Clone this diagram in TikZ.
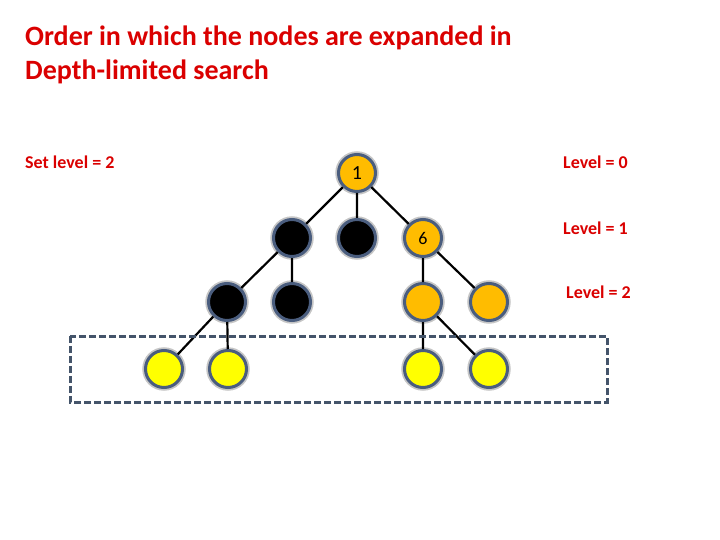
\documentclass[tikz,border=0pt]{standalone}
\usepackage{fontspec}
\setmainfont{Carlito}
\usepackage{tikz}
\usetikzlibrary{positioning}

\definecolor{titlered}{RGB}{218,0,0}
\definecolor{ringblue}{RGB}{74,93,126}
\definecolor{boxblue}{RGB}{68,84,106}
\definecolor{nodeorange}{RGB}{255,188,0}
\definecolor{nodeyellow}{RGB}{255,255,0}

\begin{document}
\begin{tikzpicture}[
  x=1pt, y=-1pt,
  every node/.style={font=\bfseries\fontsize{18}{21}\selectfont, text=titlered, inner sep=0pt},
  tnode/.style={circle, minimum size=37pt, draw=ringblue, line width=3pt,
    preaction={draw=gray!45, line width=6.5pt}, text=black,
    font=\fontsize{20}{22}\selectfont},
  done/.style={tnode, fill=black},
  open/.style={tnode, fill=nodeorange},
  leaf/.style={tnode, fill=nodeyellow},
  edge/.style={draw, black, line width=2.2pt}
]
\useasboundingbox (0,0) rectangle (720,540);

\node[anchor=north west, align=left, font=\bfseries\fontsize{28}{34}\selectfont] (title) at (25,26)
  {Order in which the nodes are expanded in\\Depth-limited search};
\node[anchor=west] (setlevel) at (25,162) {Set level = 2};
\node[anchor=west] (lvl0) at (563,162) {Level = 0};
\node[anchor=west] (lvl1) at (563,228) {Level = 1};
\node[anchor=west] (lvl2) at (566,292) {Level = 2};

% the tree
\node[open] (n1) at (357,173) {1};
\node[done] (n2) at (292,238) {};
\node[done] (n3) at (357,238) {};
\node[open, font=\fontsize{18}{20}\selectfont] (n6) at (423,238) {6};
\node[done] (n4) at (227,302) {};
\node[done] (n5) at (292,302) {};
\node[open] (n7) at (423,302) {};
\node[open] (n8) at (489,302) {};
\node[leaf] (m1) at (164,369) {};
\node[leaf] (m2) at (228,369) {};
\node[leaf] (m3) at (423,369) {};
\node[leaf] (m4) at (489,369) {};

\path[edge] (n1) -- (n2) (n1) -- (n3) (n1) -- (n6)
  (n2) -- (n4) (n2) -- (n5)
  (n6) -- (n7) (n6) -- (n8)
  (n4) -- (m1) (n4) -- (m2)
  (n7) -- (m3) (n7) -- (m4);

% cut-off box
\draw[boxblue, line width=3pt, dash pattern=on 7pt off 3pt] (70,336) rectangle (607,402);
\end{tikzpicture}
\end{document}
